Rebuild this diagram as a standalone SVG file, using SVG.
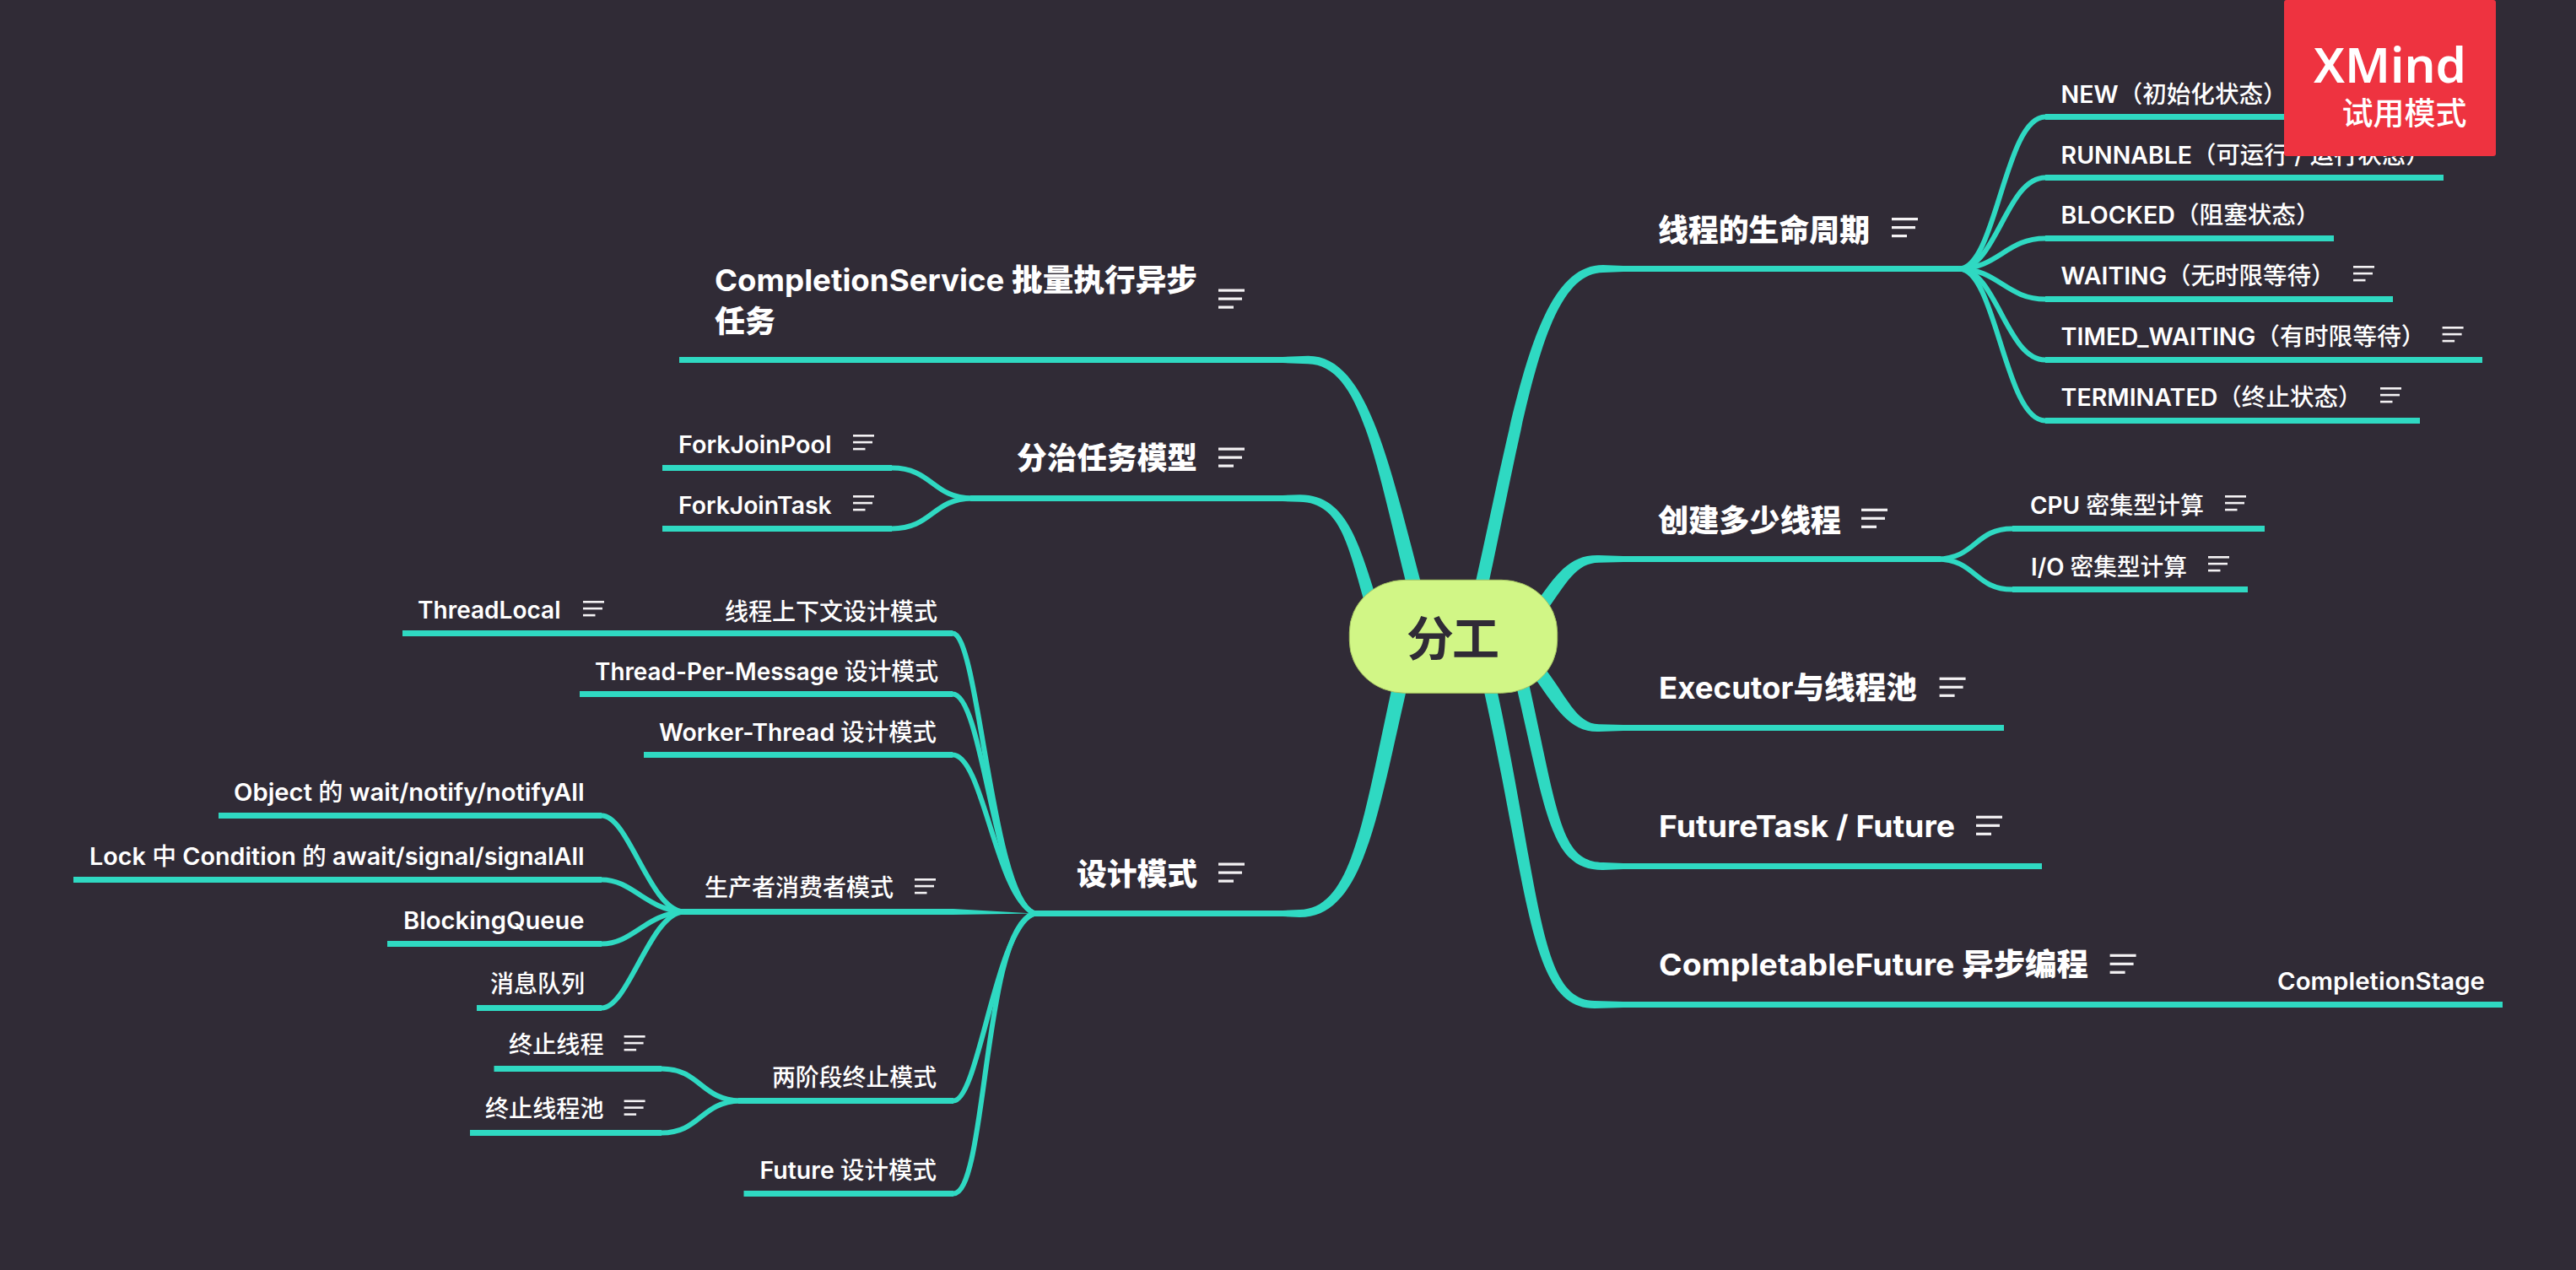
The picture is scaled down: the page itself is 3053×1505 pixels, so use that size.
<svg xmlns="http://www.w3.org/2000/svg" width="3053" height="1505" viewBox="0 0 3053 1505">
<defs>
<style>
.t{font-family:"Inter","Noto Sans CJK SC",sans-serif;fill:#fff}
.l1{font-size:36px;font-weight:700}
.l2{font-size:28px;font-weight:600}
.c{font-weight:500}
.h{font-weight:900}
.ln{fill:none;stroke:#2fd9c2;stroke-width:7}
.cv{fill:none;stroke:#2fd9c2;stroke-width:6}
.tp{fill:#2fd9c2}
.bar{fill:#f4f2f4}
</style>
<g id="n1"><rect class="bar" width="31" height="3.2"/><rect class="bar" y="10" width="28" height="3.2"/><rect class="bar" y="20" width="18" height="3.2"/></g>
<g id="n2"><rect class="bar" width="25" height="2.6"/><rect class="bar" y="7.8" width="23" height="2.6"/><rect class="bar" y="15.8" width="14.5" height="2.6"/></g>
</defs>
<rect width="3053" height="1505" fill="#302b36"/>
<g id="connectors">
<path class="tp" d="M1692,720C1648,560 1624,421 1550,421.8L1520,423L1520,430L1550,431.2C1616,432 1632,560 1674,720Z"/>
<path class="tp" d="M1638,730C1612,650 1599,585.5 1540,586.2L1520,587L1520,594L1540,594.8C1591,595.5 1598,650 1622,730Z"/>
<path class="tp" d="M1671,800C1633,960 1618,1087.5 1540,1087L1520,1086L1520,1079L1540,1078C1605,1077.5 1617,960 1653,800Z"/>
<path class="tp" d="M1742,720C1793,500 1815,313.5 1900,314L1924,315L1924,322L1900,323C1827,323.5 1807,500 1758,720Z"/>
<path class="tp" d="M1818,718C1845,680 1860,657 1895,658L1924,659L1924,666L1895,666.8C1868,667 1857,690 1830,728Z"/>
<path class="tp" d="M1815,798C1845,840 1860,868 1895,867L1924,866L1924,859L1895,858.2C1868,858 1857,825 1828,788Z"/>
<path class="tp" d="M1787,770C1833,960 1834,1031.5 1900,1031L1924,1030L1924,1023L1900,1022C1846,1021.5 1847,960 1803,770Z"/>
<path class="tp" d="M1750,780C1813,1050 1809,1195.5 1890,1195L1924,1194L1924,1187L1890,1186C1821,1185.5 1827,1050 1766,780Z"/>
<path class="tp" d="M1130,1077L1225,1082.5L1130,1084Z"/>
<path class="ln" d="M805,426.5H1520M1150,590.5H1520M1225,1082.5H1520M1924,318.5H2326M1924,662.5H2300M1924,862.5H2375M1924,1026.5H2420M1924,1190.5H2966"/>
<path class="ln" d="M2424,138.5H2780M2424,210.5H2896M2424,282.5H2766M2424,354.5H2836M2424,426.5H2942M2424,498.5H2868M2385,626.5H2684M2385,698.5H2664"/>
<path class="ln" d="M785,554.5H1057M785,626.5H1057M477,750.5H1129M687,822.5H1129M763,894.5H1129M807,1080.5H1130M875,1304.5H1130M881.5,1414.5H1130M259,966.5H713M87,1042.5H713M459,1118.5H713M565,1194.5H713M585.5,1266.5H784M557,1342.5H784"/>
<g class="cv">
<path d="M2322,318.5C2366,318 2376,138.5 2424,138.5"/>
<path d="M2322,318.5C2366,318 2378,210.5 2424,210.5"/>
<path d="M2322,318.5C2368,318 2378,282.5 2424,282.5"/>
<path d="M2322,318.5C2368,319 2378,354.5 2424,354.5"/>
<path d="M2322,318.5C2366,319 2378,426.5 2424,426.5"/>
<path d="M2322,318.5C2366,319 2376,498.5 2424,498.5"/>
<path d="M2296,662.5C2342,662 2340,626.5 2385,626.5"/>
<path d="M2296,662.5C2342,663 2340,698.5 2385,698.5"/>
<path d="M1152,590.5C1105,590 1105,554.5 1057,554.5"/>
<path d="M1152,590.5C1105,591 1105,626.5 1057,626.5"/>
<path d="M1225,1082C1175,1060 1160,750.5 1129,750.5"/>
<path d="M1225,1082C1178,1060 1165,822.5 1129,822.5"/>
<path d="M1225,1082C1180,1060 1165,894.5 1129,894.5"/>
<path d="M1225,1083C1180,1100 1160,1304.5 1130,1304.5"/>
<path d="M1225,1083C1165,1100 1170,1414.5 1130,1414.5"/>
<path d="M810,1080.5C770,1078 745,966.5 713,966.5"/>
<path d="M810,1080.5C765,1078 750,1042.5 713,1042.5"/>
<path d="M810,1080.5C765,1083 750,1118.5 713,1118.5"/>
<path d="M810,1080.5C770,1083 745,1194.5 713,1194.5"/>
<path d="M877,1304.5C830,1303 830,1266.5 784,1266.5"/>
<path d="M877,1304.5C830,1306 830,1342.5 784,1342.5"/>
</g>
</g>
<g id="root">
<rect x="1599.3" y="687.3" width="246.4" height="134" rx="66" ry="62" fill="#d1f686" stroke="#a5c562" stroke-width="1"/>
<text x="1667" y="777" font-family="'Noto Sans CJK SC',sans-serif" font-size="56" font-weight="700" fill="#302b36" textLength="110">分工</text>
</g>
<g id="completion-service"><text class="t l1" x="847" y="344.5" textLength="572" lengthAdjust="spacingAndGlyphs">CompletionService <tspan class="h">批量执行异步</tspan></text><text class="t l1 h" x="847" y="394" textLength="72" lengthAdjust="spacingAndGlyphs">任务</text><use href="#n1" x="1444" y="342.5"/></g>
<g id="fork-model"><text class="t l1 h" x="1205" y="556" textLength="214" lengthAdjust="spacingAndGlyphs">分治任务模型</text><use href="#n1" x="1444" y="530.5"/></g>
<g id="fork-pool"><text class="t l2" x="804" y="536.5" textLength="181.6" lengthAdjust="spacingAndGlyphs">ForkJoinPool</text><use href="#n2" x="1011" y="515"/></g>
<g id="fork-task"><text class="t l2" x="804" y="608.5" textLength="181.6" lengthAdjust="spacingAndGlyphs">ForkJoinTask</text><use href="#n2" x="1011" y="587"/></g>
<g id="design"><text class="t l1 h" x="1276" y="1049" textLength="143" lengthAdjust="spacingAndGlyphs">设计模式</text><use href="#n1" x="1444" y="1022.5"/></g>
<g id="thread-context"><text class="t l2 c" x="859" y="734.5" textLength="252" lengthAdjust="spacingAndGlyphs">线程上下文设计模式</text></g>
<g id="thread-local"><text class="t l2" x="495" y="732.5" textLength="169.5" lengthAdjust="spacingAndGlyphs">ThreadLocal</text><use href="#n2" x="691" y="712"/></g>
<g id="thread-per-message"><text class="t l2" x="705" y="805.5" textLength="407" lengthAdjust="spacingAndGlyphs">Thread-Per-Message <tspan class="c">设计模式</tspan></text></g>
<g id="worker-thread"><text class="t l2" x="781" y="877.5" textLength="329" lengthAdjust="spacingAndGlyphs">Worker-Thread <tspan class="c">设计模式</tspan></text></g>
<g id="producer-consumer"><text class="t l2 c" x="835" y="1061.5" textLength="224" lengthAdjust="spacingAndGlyphs">生产者消费者模式</text><use href="#n2" x="1084" y="1041"/></g>
<g id="object-wait"><text class="t l2" x="277" y="948.5" textLength="415.6" lengthAdjust="spacingAndGlyphs">Object <tspan class="c">的</tspan> wait/notify/notifyAll</text></g>
<g id="lock-condition"><text class="t l2" x="106" y="1025" textLength="586.6" lengthAdjust="spacingAndGlyphs">Lock <tspan class="c">中</tspan> Condition <tspan class="c">的</tspan> await/signal/signalAll</text></g>
<g id="blocking-queue"><text class="t l2" x="478" y="1100.5" textLength="214.6" lengthAdjust="spacingAndGlyphs">BlockingQueue</text></g>
<g id="message-queue"><text class="t l2 c" x="581" y="1175.5" textLength="112" lengthAdjust="spacingAndGlyphs">消息队列</text></g>
<g id="two-phase"><text class="t l2 c" x="915" y="1287" textLength="195" lengthAdjust="spacingAndGlyphs">两阶段终止模式</text></g>
<g id="stop-thread"><text class="t l2 c" x="603" y="1248" textLength="112.6" lengthAdjust="spacingAndGlyphs">终止线程</text><use href="#n2" x="739.6" y="1227"/></g>
<g id="stop-pool"><text class="t l2 c" x="575" y="1324" textLength="140.6" lengthAdjust="spacingAndGlyphs">终止线程池</text><use href="#n2" x="739.6" y="1303.5"/></g>
<g id="future-pattern"><text class="t l2" x="900.5" y="1397" textLength="209.5" lengthAdjust="spacingAndGlyphs">Future <tspan class="c">设计模式</tspan></text></g>
<g id="lifecycle"><text class="t l1 h" x="1965" y="285.5" textLength="251" lengthAdjust="spacingAndGlyphs">线程的生命周期</text><use href="#n1" x="2242" y="258"/></g>
<g id="new"><text class="t l2" x="2442.6" y="121.5" textLength="268" lengthAdjust="spacingAndGlyphs">NEW<tspan class="c">（初始化状态）</tspan></text></g>
<g id="runnable"><text class="t l2" x="2442.6" y="194" textLength="437" lengthAdjust="spacingAndGlyphs">RUNNABLE<tspan class="c">（可运行 / 运行状态）</tspan></text></g>
<g id="blocked"><text class="t l2" x="2442.6" y="265" textLength="307" lengthAdjust="spacingAndGlyphs">BLOCKED<tspan class="c">（阻塞状态）</tspan></text></g>
<g id="waiting"><text class="t l2" x="2442.6" y="336.5" textLength="325" lengthAdjust="spacingAndGlyphs">WAITING<tspan class="c">（无时限等待）</tspan></text><use href="#n2" x="2789" y="315"/></g>
<g id="timed-waiting"><text class="t l2" x="2442.6" y="408.5" textLength="432" lengthAdjust="spacingAndGlyphs">TIMED_WAITING<tspan class="c">（有时限等待）</tspan></text><use href="#n2" x="2894.6" y="387"/></g>
<g id="terminated"><text class="t l2" x="2442.6" y="481" textLength="357" lengthAdjust="spacingAndGlyphs">TERMINATED<tspan class="c">（终止状态）</tspan></text><use href="#n2" x="2821" y="459"/></g>
<g id="how-many"><text class="t l1 h" x="1965" y="630" textLength="217" lengthAdjust="spacingAndGlyphs">创建多少线程</text><use href="#n1" x="2206" y="602.7"/></g>
<g id="cpu"><text class="t l2" x="2406" y="609" textLength="206" lengthAdjust="spacingAndGlyphs">CPU <tspan class="c">密集型计算</tspan></text><use href="#n2" x="2637" y="587"/></g>
<g id="io"><text class="t l2" x="2407" y="681.5" textLength="185" lengthAdjust="spacingAndGlyphs">I/O <tspan class="c">密集型计算</tspan></text><use href="#n2" x="2617" y="659"/></g>
<g id="executor"><text class="t l1" x="1966" y="827.5" textLength="306" lengthAdjust="spacingAndGlyphs">Executor<tspan class="h">与线程池</tspan></text><use href="#n1" x="2298.6" y="802.7"/></g>
<g id="future-task"><text class="t l1" x="1966" y="991.5" textLength="351" lengthAdjust="spacingAndGlyphs">FutureTask / Future</text><use href="#n1" x="2342" y="966.7"/></g>
<g id="completable"><text class="t l1" x="1966" y="1156" textLength="509" lengthAdjust="spacingAndGlyphs">CompletableFuture <tspan class="h">异步编程</tspan></text><use href="#n1" x="2500.6" y="1130.7"/></g>
<g id="completion-stage"><text class="t l2" x="2699" y="1172.7" textLength="246" lengthAdjust="spacingAndGlyphs">CompletionStage</text></g>
<g id="watermark">
<rect x="2707" y="0" width="251" height="185" rx="3" fill="#ee3340"/>
<text x="2742" y="98" font-family="'Noto Sans',sans-serif" font-size="57" font-weight="600" fill="#fff" textLength="181" lengthAdjust="spacingAndGlyphs">XMind</text>
<text x="2775.5" y="148" font-family="'Noto Sans CJK SC',sans-serif" font-size="37" font-weight="500" fill="#fff" textLength="148" lengthAdjust="spacingAndGlyphs">试用模式</text>
</g>
</svg>
